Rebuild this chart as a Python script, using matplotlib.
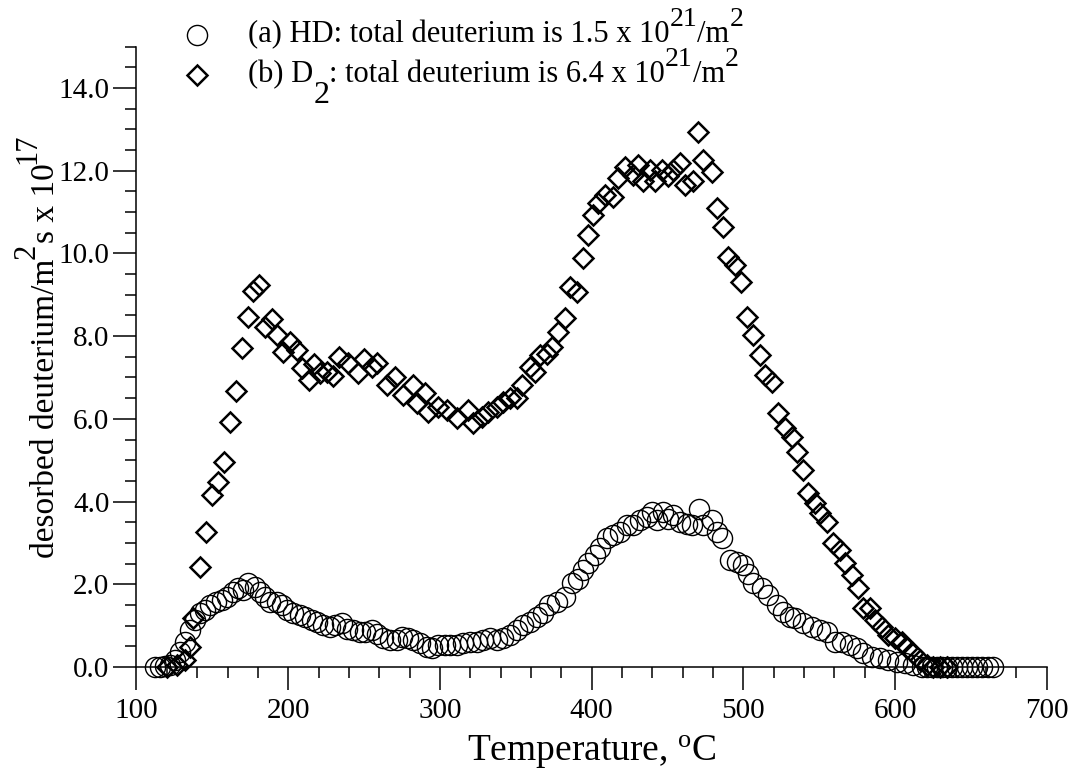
import numpy as np
import matplotlib
matplotlib.use("Agg")
import matplotlib.pyplot as plt
from matplotlib.lines import Line2D
from matplotlib.transforms import IdentityTransform
from matplotlib.ticker import MultipleLocator, FormatStrFormatter

plt.rcParams['font.family'] = 'Liberation Serif'
plt.rcParams['mathtext.fontset'] = 'custom'
plt.rcParams['mathtext.rm'] = 'Liberation Serif'
plt.rcParams['mathtext.it'] = 'Liberation Serif:italic'

# (a) HD desorption
hd_temp = [112.2, 115.5, 118.8, 122.1, 125.4, 128.7, 132.0, 135.3, 138.6, 141.9,
           145.2, 148.5, 152.4, 156.2, 159.5, 163.8, 167.1, 170.4, 173.7, 178.1,
           181.4, 184.7, 188.0, 192.4, 195.7, 199.0, 203.4, 207.8, 211.1, 215.5,
           218.8, 223.1, 227.6, 230.9, 235.3, 238.6, 242.9, 247.3, 250.6, 255.0,
           258.3, 262.7, 267.1, 271.5, 274.8, 279.2, 282.5, 286.9, 291.3, 294.6,
           299.0, 303.4, 306.7, 311.1, 315.4, 319.8, 324.3, 328.6, 333.0, 337.4,
           341.8, 346.2, 350.6, 355.0, 359.4, 363.8, 368.2, 372.1, 377.0, 382.5,
           386.9, 391.2, 394.5, 397.8, 402.2, 405.5, 410.0, 414.3, 418.7, 423.1,
           427.5, 431.9, 436.3, 439.6, 442.9, 447.3, 450.6, 453.9, 458.3, 462.7,
           466.0, 471.0, 473.6, 479.2, 482.5, 485.8, 491.2, 495.7, 500.0, 503.3,
           506.6, 512.0, 516.5, 522.0, 526.4, 530.8, 534.1, 539.6, 545.0, 550.6,
           555.0, 560.5, 564.9, 570.4, 574.8, 579.1, 584.6, 590.0, 595.6, 601.1,
           606.6, 612.1, 617.6, 621.0, 624.3, 627.6, 631.0, 634.3, 637.6, 641.0,
           644.3, 647.6, 651.0, 654.3, 657.6, 661.0, 664.5]
hd_rate = [0.00, 0.00, 0.02, 0.05, 0.17, 0.37, 0.61, 0.89, 1.14, 1.30,
           1.38, 1.50, 1.58, 1.62, 1.70, 1.82, 1.90, 1.86, 2.02, 1.94,
           1.82, 1.70, 1.58, 1.58, 1.50, 1.38, 1.30, 1.26, 1.22, 1.14,
           1.10, 1.02, 0.97, 1.02, 1.06, 0.93, 0.89, 0.85, 0.85, 0.89,
           0.81, 0.69, 0.65, 0.65, 0.73, 0.69, 0.65, 0.57, 0.49, 0.45,
           0.53, 0.53, 0.53, 0.53, 0.57, 0.61, 0.61, 0.65, 0.69, 0.65,
           0.69, 0.77, 0.89, 1.02, 1.10, 1.22, 1.30, 1.50, 1.58, 1.70,
           2.02, 2.14, 2.35, 2.51, 2.71, 2.87, 3.11, 3.19, 3.27, 3.43,
           3.43, 3.55, 3.63, 3.75, 3.55, 3.75, 3.59, 3.67, 3.51, 3.47,
           3.43, 3.81, 3.43, 3.55, 3.27, 3.11, 2.59, 2.55, 2.47, 2.26,
           2.02, 1.90, 1.74, 1.50, 1.34, 1.22, 1.18, 1.06, 0.97, 0.89,
           0.85, 0.61, 0.61, 0.53, 0.45, 0.33, 0.25, 0.21, 0.17, 0.13,
           0.09, 0.05, 0.00, 0.00, 0.00, 0.00, 0.00, 0.00, 0.00, 0.00,
           0.00, 0.00, 0.00, 0.00, 0.00, 0.00, 0.00]

# (b) D2 desorption
d2_temp = [120.0, 126.5, 132.0, 135.3, 137.5, 141.9, 145.8, 149.6, 153.5, 157.5,
           161.4, 165.4, 169.3, 173.3, 177.0, 181.0, 184.7, 189.5, 192.8, 196.8,
           201.2, 205.6, 208.9, 213.7, 217.2, 221.0, 225.4, 229.7, 233.7, 239.6,
           246.2, 250.2, 255.0, 258.7, 264.9, 270.4, 275.9, 282.5, 284.7, 290.2,
           292.4, 299.0, 304.5, 311.1, 318.7, 322.0, 327.6, 331.9, 337.4, 341.8,
           346.2, 350.6, 353.9, 359.4, 362.7, 366.0, 370.4, 373.7, 378.1, 382.5,
           385.8, 390.2, 394.5, 397.8, 401.1, 404.4, 408.8, 414.3, 417.6, 422.0,
           427.5, 430.8, 434.1, 438.5, 441.8, 446.2, 450.6, 453.9, 458.3, 461.6,
           467.0, 470.4, 473.6, 479.2, 482.5, 486.4, 490.1, 494.5, 498.3, 502.2,
           506.6, 511.0, 514.3, 518.7, 523.1, 527.5, 531.9, 535.2, 539.2, 542.9,
           547.3, 550.6, 555.0, 559.3, 563.7, 567.0, 571.5, 575.8, 579.1, 583.5,
           586.8, 591.2, 595.6, 600.0, 604.4, 607.7, 612.1, 616.5, 620.9, 625.3,
           629.7, 634.0]
d2_rate = [0.00, 0.05, 0.17, 0.49, 1.18, 2.41, 3.27, 4.16, 4.48, 4.95,
           5.92, 6.67, 7.72, 8.47, 9.09, 9.24, 8.23, 8.41, 8.03, 7.62,
           7.87, 7.66, 7.22, 6.94, 7.33, 7.10, 7.14, 7.04, 7.50, 7.34,
           7.10, 7.45, 7.26, 7.34, 6.82, 7.02, 6.58, 6.82, 6.38, 6.62,
           6.17, 6.29, 6.21, 6.01, 6.21, 5.89, 6.05, 6.17, 6.29, 6.41,
           6.50, 6.50, 6.82, 7.26, 7.14, 7.54, 7.58, 7.74, 8.11, 8.43,
           9.19, 9.07, 9.88, 10.44, 10.93, 11.21, 11.41, 11.37, 11.82, 12.10,
           11.90, 12.14, 11.74, 12.02, 11.74, 12.02, 11.86, 12.02, 12.18, 11.65,
           11.74, 12.94, 12.26, 11.98, 11.09, 10.65, 9.92, 9.72, 9.32, 8.47,
           8.03, 7.54, 7.06, 6.90, 6.13, 5.77, 5.57, 5.21, 4.76, 4.20,
           3.96, 3.72, 3.51, 2.99, 2.83, 2.51, 2.22, 1.90, 1.42, 1.42,
           1.14, 0.97, 0.77, 0.69, 0.61, 0.45, 0.33, 0.17, 0.05, 0.00,
           0.00, 0.00]

assert len(hd_temp) == len(hd_rate), (len(hd_temp), len(hd_rate))
assert len(d2_temp) == len(d2_rate), (len(d2_temp), len(d2_rate))

# text runs: (text, baseline shift in px, font size)
hd_label = [('(a) HD: total deuterium is 1.5 x 10', 0, 22), ('21', 16, 20),
            ('/m', 0, 22), ('2', 16, 20)]
d2_label = [('(b) D', 0, 22), ('2', -21, 23), (': total deuterium is 6.4 x 10', 0, 22),
            ('21', 16, 20), ('/m', 0, 22), ('2', 16, 20)]
y_label = [('desorbed deuterium/m', 0, 24), ('2', 19, 22), ('s x 10', 0, 24),
           ('17', 19, 22)]

W, H = 1078, 773
fig = plt.figure(figsize=(W / 100, H / 100), dpi=100)
ax = fig.add_axes([0.1266, 0.1371, 0.8444, 0.8026])
renderer = fig.canvas.get_renderer()


def rich_text(x, y, runs, vertical=False):
    # x, y: start of the baseline, image pixels from the top left
    y = H - y
    pos = 0
    for txt, shift, size in runs:
        if vertical:
            t = fig.text(x - shift, y + pos, txt, fontsize=size, rotation=90,
                         rotation_mode='anchor', ha='left', va='baseline',
                         transform=IdentityTransform())
            pos = t.get_window_extent(renderer).y1 - y
        else:
            t = fig.text(x + pos, y + shift, txt, fontsize=size, ha='left',
                         va='baseline', transform=IdentityTransform())
            pos = t.get_window_extent(renderer).x1 - x


ax.plot(hd_temp, hd_rate, linestyle='none', marker='o', markersize=14.5,
        markerfacecolor='none', markeredgecolor='black', markeredgewidth=1.0,
        clip_on=False)
ax.plot(d2_temp, d2_rate, linestyle='none', marker='D', markersize=10,
        markerfacecolor='none', markeredgecolor='black', markeredgewidth=1.8,
        clip_on=False)

ax.set_xlim(100, 700)
ax.set_ylim(0, 15)
ax.xaxis.set_major_locator(MultipleLocator(100))
ax.xaxis.set_minor_locator(MultipleLocator(20))
ax.yaxis.set_minor_locator(MultipleLocator(0.5))
ax.set_yticks([0, 2, 4, 6, 8, 10, 12, 14])
ax.yaxis.set_major_formatter(FormatStrFormatter('%.1f'))

for side in ['top', 'right']:
    ax.spines[side].set_visible(False)
for side in ['left', 'bottom']:
    ax.spines[side].set_linewidth(1.1)

ax.tick_params(which='major', direction='out', length=16.5, width=1.1, labelsize=21)
ax.tick_params(which='minor', direction='out', length=8, width=1.1)
ax.tick_params(axis='x', which='major', pad=6)
ax.tick_params(axis='y', which='major', pad=3)

ax.set_xlabel(r'Temperature, $^{\mathrm{o}}$C', fontsize=27)
ax.xaxis.label.set_va('baseline')
ax.xaxis.set_label_coords(0.5, (667 - 761) / 621)

# legend key, drawn by hand to keep the large raised indices of the original
key_trans = IdentityTransform()
fig.add_artist(Line2D([197], [H - 35], transform=key_trans, marker='o', markersize=14.5,
                      markerfacecolor='none', markeredgecolor='black', markeredgewidth=1.0))
fig.add_artist(Line2D([197], [H - 75], transform=key_trans, marker='D', markersize=10,
                      markerfacecolor='none', markeredgecolor='black', markeredgewidth=1.8))
rich_text(248, 42, hd_label)
rich_text(248, 82, d2_label)
rich_text(54, 558, y_label, vertical=True)

plt.savefig('out.png', dpi=100)
